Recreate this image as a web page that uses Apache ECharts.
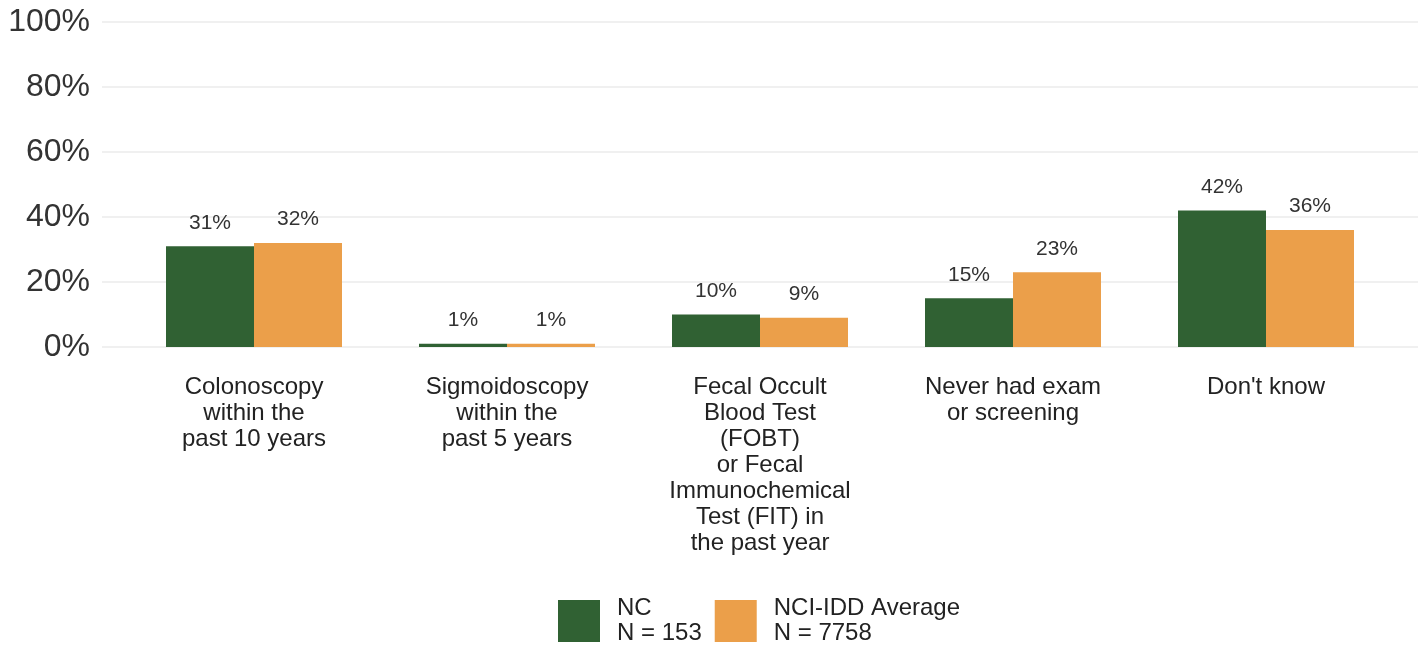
<!DOCTYPE html>
<html>
<head>
<meta charset="utf-8">
<style>
  html, body { margin: 0; padding: 0; background: #ffffff; }
  #chart { width: 1427px; height: 647px; }
</style>
<script src="https://cdn.jsdelivr.net/npm/echarts@6/dist/echarts.min.js"></script>
</head>
<body>
<div id="chart"></div>
<script>
// Colorectal screening responses, percent of respondents
const categories = [
  'Colonoscopy\nwithin the\npast 10 years',
  'Sigmoidoscopy\nwithin the\npast 5 years',
  'Fecal Occult\nBlood Test\n(FOBT)\nor Fecal\nImmunochemical\nTest (FIT) in\nthe past year',
  'Never had exam\nor screening',
  "Don't know"
];
const ncValues = [31, 1, 10, 15, 42];
const avgValues = [32, 1, 9, 23, 36];
const seriesNames = ['NC', 'NCI-IDD Average'];
const seriesCounts = ['N = 153', 'N = 7758'];
const yTicks = [0, 20, 40, 60, 80, 100];

const FONT = '"Liberation Sans", Arial, sans-serif';
const GREEN = '#306133';
const ORANGE = '#eb9f4a';

const chart = echarts.init(document.getElementById('chart'));

const labelStyle = {
  show: true,
  position: 'top',
  distance: 13,
  fontFamily: FONT,
  fontSize: 21,
  color: '#333333',
  formatter: p => p.value + '%'
};

chart.setOption({
  animation: false,
  textStyle: { fontFamily: FONT },
  grid: [
    // background grid: horizontal rules and percent ticks
    { left: 102, right: 9, top: 22, bottom: 300 },
    // bar area
    { left: 127.5, right: 34.5, top: 22, bottom: 300 }
  ],
  legend: {
    data: seriesNames,
    left: 553,
    top: 591,
    itemWidth: 42,
    itemHeight: 42,
    itemGap: 13,
    icon: 'rect',
    formatter: name => name + '\n' + seriesCounts[seriesNames.indexOf(name)],
    textStyle: {
      fontFamily: FONT,
      fontSize: 24,
      lineHeight: 25,
      color: '#222222',
      padding: [0, 0, 0, 12]
    }
  },
  xAxis: [
    {
      gridIndex: 0, type: 'category', data: [''],
      axisLine: { show: false }, axisTick: { show: false }, axisLabel: { show: false }
    },
    {
      gridIndex: 1, type: 'category', data: categories,
      axisLine: { show: false }, axisTick: { show: false },
      axisLabel: {
        interval: 0,
        margin: 27,
        fontFamily: FONT,
        fontSize: 24,
        lineHeight: 26,
        color: '#222222',
        align: 'center'
      }
    }
  ],
  yAxis: [
    {
      gridIndex: 0, type: 'value', min: 0, max: 100, interval: 20,
      axisLine: { show: false }, axisTick: { show: false },
      axisLabel: {
        margin: 12,
        fontFamily: FONT,
        fontSize: 32,
        color: '#333333',
        padding: [2, 0, 0, 0],
        formatter: v => (yTicks.includes(v) ? v + '%' : '')
      },
      splitLine: { show: true, lineStyle: { color: '#ebebeb', width: 1.5 } }
    },
    {
      gridIndex: 1, type: 'value', min: 0, max: 100, interval: 20,
      axisLine: { show: false }, axisTick: { show: false },
      axisLabel: { show: false }, splitLine: { show: false }
    }
  ],
  series: [
    {
      name: seriesNames[0], type: 'bar', xAxisIndex: 1, yAxisIndex: 1,
      data: ncValues, barWidth: 88, barGap: '0%',
      itemStyle: { color: GREEN },
      label: labelStyle
    },
    {
      name: seriesNames[1], type: 'bar', xAxisIndex: 1, yAxisIndex: 1,
      data: avgValues, barWidth: 88, barGap: '0%',
      itemStyle: { color: ORANGE },
      label: labelStyle
    }
  ]
});
</script>
</body>
</html>
